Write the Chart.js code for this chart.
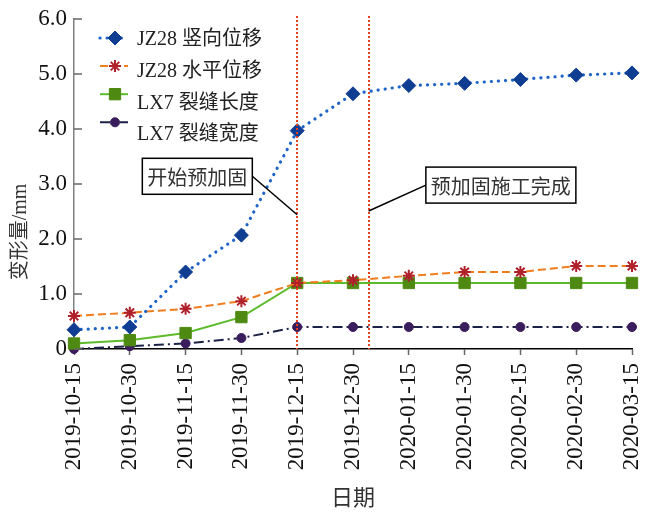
<!DOCTYPE html>
<html><head><meta charset="utf-8">
<script src="https://cdn.jsdelivr.net/npm/chart.js@4.4.0/dist/chart.umd.min.js"></script>
<style>html,body{margin:0;padding:0;background:#fff}</style>
</head><body>
<canvas id="c" width="652" height="512"></canvas>
<script>
// ---- data ----
const dates = ['2019-10-15','2019-10-30','2019-11-15','2019-11-30','2019-12-15','2019-12-30','2020-01-15','2020-01-30','2020-02-15','2020-02-30','2020-03-15'];
const seriesNames = ['JZ28 竖向位移','JZ28 水平位移','LX7 裂缝长度','LX7 裂缝宽度'];
const verticalDisp   = [0.35,0.40,1.40,2.07,3.97,4.64,4.79,4.83,4.90,4.98,5.02];
const horizontalDisp = [0.60,0.66,0.73,0.87,1.20,1.25,1.33,1.40,1.40,1.51,1.51];
const crackLength    = [0.10,0.16,0.29,0.58,1.20,1.20,1.20,1.20,1.20,1.20,1.20];
const crackWidth     = [0.00,0.05,0.10,0.20,0.40,0.40,0.40,0.40,0.40,0.40,0.40];
const yTicks = [0,1,2,3,4,5,6];
const markerLines = [4, 5.28];           // category positions of the red reference lines
const noteTexts = ['开始预加固','预加固施工完成'];
const noteCenters = [[2.21,3.14],[7.65,2.98]];   // box centres (category index, value)
const noteAnchors = [[4,2.44],[5.28,2.51]];      // connector end points (category index, value)
const xTitle = '日期';
const yTitle = '变形量/mm';

const SERIF = '"Liberation Serif", "Noto Sans CJK SC", serif';
const LSERIF = '"Liberation Serif", "Times New Roman", serif';

const extras = {
  id:'extras',
  afterDatasetsDraw(chart){
    const ctx = chart.ctx, xs = chart.scales.x, ys = chart.scales.y, a = chart.chartArea;
    ctx.save();
    // inward y ticks
    ctx.strokeStyle = '#666'; ctx.lineWidth = 1.5;
    yTicks.forEach(v=>{ const py = ys.getPixelForValue(v); ctx.beginPath(); ctx.moveTo(a.left, py); ctx.lineTo(a.left+8, py); ctx.stroke(); });
    // red dotted reference lines
    ctx.strokeStyle = '#E8401C'; ctx.lineWidth = 2; ctx.setLineDash([2,2]);
    markerLines.forEach(m=>{ const px = Math.round(xs.getPixelForValue(m)); ctx.beginPath(); ctx.moveTo(px, a.top-3); ctx.lineTo(px, a.bottom); ctx.stroke(); });
    ctx.setLineDash([]);
    // annotation boxes
    ctx.font = '20px "Noto Sans CJK SC"';
    noteTexts.forEach((t,i)=>{
      const cx = xs.getPixelForValue(noteCenters[i][0]), cy = ys.getPixelForValue(noteCenters[i][1]);
      const tw = ctx.measureText(t).width, w = tw + 10, h = 36;
      const bl = cx - w/2, bt = cy - h/2;
      const ax = xs.getPixelForValue(noteAnchors[i][0]), ay = ys.getPixelForValue(noteAnchors[i][1]);
      const sx = ax > cx ? bl + w : bl;
      ctx.strokeStyle = '#000'; ctx.lineWidth = 1.5;
      ctx.beginPath(); ctx.moveTo(sx, cy); ctx.lineTo(ax, ay); ctx.stroke();
      ctx.fillStyle = '#fff'; ctx.fillRect(bl, bt, w, h);
      ctx.strokeRect(bl, bt, w, h);
      ctx.fillStyle = '#333'; ctx.textAlign = 'center'; ctx.textBaseline = 'middle';
      ctx.fillText(t, cx, cy + 1);
    });
    // legend
    chart.data.datasets.forEach((ds,i)=>{
      const my = a.top + 19 + i*28.1, ty = a.top + 21 + i*31.7;
      ctx.strokeStyle = ds.borderColor; ctx.lineWidth = ds.borderWidth;
      ctx.lineCap = ds.borderCapStyle || 'butt';
      ctx.setLineDash(ds.borderDash || []);
      ctx.beginPath(); ctx.moveTo(a.left+26, my); ctx.lineTo(a.left+54, my); ctx.stroke();
      ctx.setLineDash([]); ctx.lineCap = 'butt';
      ctx.fillStyle = ds.pointBackgroundColor; ctx.strokeStyle = ds.pointBorderColor;
      ctx.lineWidth = ds.pointBorderWidth || 1;
      Chart.helpers.drawPoint(ctx, {pointStyle: ds.pointStyle, radius: ds.pointRadius, rotation: 0, borderWidth: ds.pointBorderWidth || 1}, a.left+41, my);
      ctx.fillStyle = '#222'; ctx.font = '20px ' + SERIF; ctx.textAlign = 'left'; ctx.textBaseline = 'middle';
      ctx.fillText(ds.label, a.left+63, ty);
    });
    // y title
    ctx.save();
    ctx.translate(21, (a.top + a.bottom)/2 + 48);
    ctx.rotate(-Math.PI/2);
    ctx.fillStyle = '#333'; ctx.font = '20px ' + SERIF; ctx.textAlign = 'center'; ctx.textBaseline = 'middle';
    ctx.fillText(yTitle, 0, 0);
    ctx.restore();
    ctx.restore();
  }
};

new Chart(document.getElementById('c'), {
  type:'line',
  data:{
    labels: dates,
    datasets:[
      {label:seriesNames[0], data:verticalDisp, borderColor:'#1E64C8', borderWidth:3.2, borderDash:[0.1,7], borderCapStyle:'round',
       pointStyle:'rectRot', pointRadius:7, pointBackgroundColor:'#0F3D91', pointBorderColor:'#0F3D91', pointBorderWidth:1, clip:false},
      {label:seriesNames[1], data:horizontalDisp, borderColor:'#F07D1E', borderWidth:2, borderDash:[8,4],
       pointStyle:'star', pointRadius:6, pointBackgroundColor:'#B0202A', pointBorderColor:'#B0202A', pointBorderWidth:2, clip:false},
      {label:seriesNames[2], data:crackLength, borderColor:'#5DBB2B', borderWidth:2,
       pointStyle:'rect', pointRadius:8, pointBackgroundColor:'#4E8A12', pointBorderColor:'#4E8A12', pointBorderWidth:1, clip:false},
      {label:seriesNames[3], data:crackWidth, borderColor:'#1C2247', borderWidth:2, borderDash:[10,4,2,4],
       pointStyle:'circle', pointRadius:4.5, pointBackgroundColor:'#3A1D5C', pointBorderColor:'#3A1D5C', pointBorderWidth:1, clip:false}
    ]
  },
  options:{
    responsive:false, animation:false, devicePixelRatio:1,
    layout:{padding:{top:19,right:20,left:0,bottom:0}},
    plugins:{legend:{display:false}, tooltip:{enabled:false}},
    elements:{line:{tension:0}},
    scales:{
      x:{
        type:'category', offset:false,
        grid:{drawOnChartArea:false, drawTicks:true, tickLength:6, tickColor:'#666', tickWidth:1.5},
        border:{color:'#000', width:1.5},
        ticks:{maxRotation:90, minRotation:90, autoSkip:false, padding:8, color:'#111', font:{family:LSERIF, size:23}},
        title:{display:true, text:xTitle, color:'#333', font:{family:'"Noto Sans CJK SC", sans-serif', size:22}, padding:{top:0,bottom:2}},
        afterFit(s){ s.height = 163; s.paddingLeft = 0; s.paddingRight = 0; }
      },
      y:{
        min:0, max:6,
        afterBuildTicks(s){ s.ticks = yTicks.map(v=>({value:v})); },
        grid:{drawOnChartArea:false, drawTicks:false},
        border:{color:'#808080', width:1.5},
        ticks:{padding:7, color:'#111', font:{family:LSERIF, size:23}, callback:v=> v===0 ? '0' : v.toFixed(1)},
        afterFit(s){ s.width = 74; s.paddingTop = 0; s.paddingBottom = 0; }
      }
    }
  },
  plugins:[extras]
});
</script>
</body></html>
